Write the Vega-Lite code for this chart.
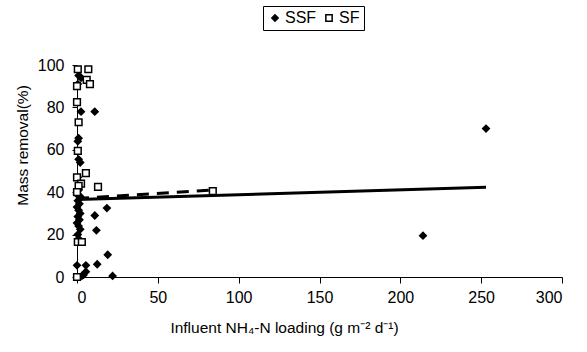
{
  "$schema": "https://vega.github.io/schema/vega-lite/v6.json",
  "width": 485,
  "height": 212,
  "autosize": "none",
  "padding": {"left": 77, "top": 65, "right": 25, "bottom": 75},
  "background": "white",
  "config": {
    "view": {"stroke": null},
    "font": "Liberation Sans",
    "axis": {"grid": false, "domainColor": "black", "tickColor": "black", "labelColor": "black", "titleColor": "black", "labelFont": "Liberation Sans", "titleFont": "Liberation Sans", "labelFontSize": 16, "titleFontSize": 15.5, "titleFontWeight": "normal"}
  },
  "datasets": {
    "points": [
      {"x": 253, "y": 70, "series": "SSF"}, {"x": 214, "y": 19.5, "series": "SSF"},
      {"x": 1, "y": 95, "series": "SSF"}, {"x": 2.5, "y": 94, "series": "SSF"}, {"x": 0.5, "y": 91, "series": "SSF"},
      {"x": 2.5, "y": 78, "series": "SSF"}, {"x": 11, "y": 78, "series": "SSF"},
      {"x": 1, "y": 65.5, "series": "SSF"}, {"x": 0.5, "y": 64, "series": "SSF"},
      {"x": 1, "y": 55.5, "series": "SSF"}, {"x": 2, "y": 54, "series": "SSF"},
      {"x": 0.5, "y": 47, "series": "SSF"},
      {"x": 1, "y": 41, "series": "SSF"}, {"x": 0, "y": 39, "series": "SSF"}, {"x": 2, "y": 38, "series": "SSF"},
      {"x": 0.5, "y": 36, "series": "SSF"}, {"x": 1.5, "y": 34.5, "series": "SSF"}, {"x": 0, "y": 33, "series": "SSF"},
      {"x": 1, "y": 31.5, "series": "SSF"}, {"x": 2, "y": 30, "series": "SSF"}, {"x": 0.5, "y": 28.5, "series": "SSF"},
      {"x": 1.5, "y": 27, "series": "SSF"}, {"x": 0, "y": 25.5, "series": "SSF"}, {"x": 1, "y": 24, "series": "SSF"},
      {"x": 2, "y": 22.5, "series": "SSF"}, {"x": 0.5, "y": 20, "series": "SSF"}, {"x": 1, "y": 18, "series": "SSF"},
      {"x": 18.5, "y": 32.5, "series": "SSF"}, {"x": 11, "y": 29, "series": "SSF"}, {"x": 12, "y": 22, "series": "SSF"},
      {"x": 19, "y": 10.5, "series": "SSF"}, {"x": 12.5, "y": 6, "series": "SSF"}, {"x": 5.5, "y": 5.5, "series": "SSF"},
      {"x": 0, "y": 5.5, "series": "SSF"}, {"x": 5.5, "y": 2.5, "series": "SSF"}, {"x": 3, "y": 0.5, "series": "SSF"},
      {"x": 22, "y": 0.5, "series": "SSF"}, {"x": 4, "y": 1, "series": "SSF"},
      {"x": 0.5, "y": 98, "series": "SF"}, {"x": 7, "y": 98, "series": "SF"}, {"x": 6, "y": 93, "series": "SF"},
      {"x": 8, "y": 91, "series": "SF"}, {"x": 0, "y": 90, "series": "SF"}, {"x": 0, "y": 82.5, "series": "SF"},
      {"x": 1, "y": 73, "series": "SF"}, {"x": 0.5, "y": 59.5, "series": "SF"}, {"x": 0, "y": 47, "series": "SF"},
      {"x": 5.5, "y": 49, "series": "SF"}, {"x": 2.5, "y": 44, "series": "SF"}, {"x": 13, "y": 42.5, "series": "SF"},
      {"x": 84, "y": 40.5, "series": "SF"}, {"x": 0.5, "y": 16.5, "series": "SF"}, {"x": 3, "y": 16.5, "series": "SF"},
      {"x": 0, "y": 0, "series": "SF"}, {"x": 1, "y": 43, "series": "SF"}, {"x": 0, "y": 40, "series": "SF"}
    ],
    "lines": [
      {"x": 0, "y": 36.5, "series": "SSF"}, {"x": 253, "y": 42.3, "series": "SSF"},
      {"x": 0, "y": 37, "series": "SF"}, {"x": 84, "y": 41, "series": "SF"}
    ]
  },
  "layer": [
    {
      "data": {"name": "lines"},
      "transform": [{"filter": "datum.series === 'SSF'"}],
      "mark": {"type": "line", "color": "black", "strokeWidth": 3},
      "encoding": {
        "x": {"field": "x", "type": "quantitative", "scale": {"domain": [0, 300]}},
        "y": {"field": "y", "type": "quantitative", "scale": {"domain": [0, 100]}}
      }
    },
    {
      "data": {"name": "lines"},
      "transform": [{"filter": "datum.series === 'SF'"}],
      "mark": {"type": "line", "color": "black", "strokeWidth": 3, "strokeDash": [12, 8]},
      "encoding": {
        "x": {"field": "x", "type": "quantitative", "scale": {"domain": [0, 300]}},
        "y": {"field": "y", "type": "quantitative", "scale": {"domain": [0, 100]}}
      }
    },
    {
      "data": {"name": "points"},
      "mark": {"type": "point", "stroke": "black", "strokeWidth": 1.5, "opacity": 1, "size": 45},
      "encoding": {
        "x": {"field": "x", "type": "quantitative", "scale": {"domain": [0, 300]},
          "axis": {"values": [0, 50, 100, 150, 200, 250, 300], "title": "Influent NH₄-N loading (g m⁻² d⁻¹)", "titlePadding": 15, "labelPadding": 6, "tickSize": 6, "titleX": 207, "titleAlign": "center"}},
        "y": {"field": "y", "type": "quantitative", "scale": {"domain": [0, 100]},
          "axis": {"values": [0, 20, 40, 60, 80, 100], "title": "Mass removal(%)", "titlePadding": 7, "tickSize": 5, "labelPadding": 8, "titleY": 80, "titleAlign": "center"}},
        "shape": {"field": "series", "type": "nominal", "scale": {"domain": ["SSF", "SF"], "range": ["diamond", "square"]},
          "legend": {"title": null, "orient": "none", "legendX": 186, "legendY": -59, "direction": "horizontal", "strokeColor": "black", "padding": 4, "labelFontSize": 16, "labelColor": "black", "symbolSize": 40, "columnPadding": 4, "labelOffset": 2,
            "encode": {"symbols": {"update": {"stroke": {"value": "black"}, "strokeWidth": {"value": 1.5}}}}}},
        "fill": {"field": "series", "type": "nominal", "scale": {"domain": ["SSF", "SF"], "range": ["black", "white"]},
          "legend": {"title": null, "orient": "none", "legendX": 186, "legendY": -59, "direction": "horizontal", "strokeColor": "black", "padding": 4, "labelFontSize": 16, "labelColor": "black", "symbolSize": 40, "columnPadding": 4, "labelOffset": 2,
            "encode": {"symbols": {"update": {"stroke": {"value": "black"}, "strokeWidth": {"value": 1.5}}}}}}
      }
    }
  ]
}
